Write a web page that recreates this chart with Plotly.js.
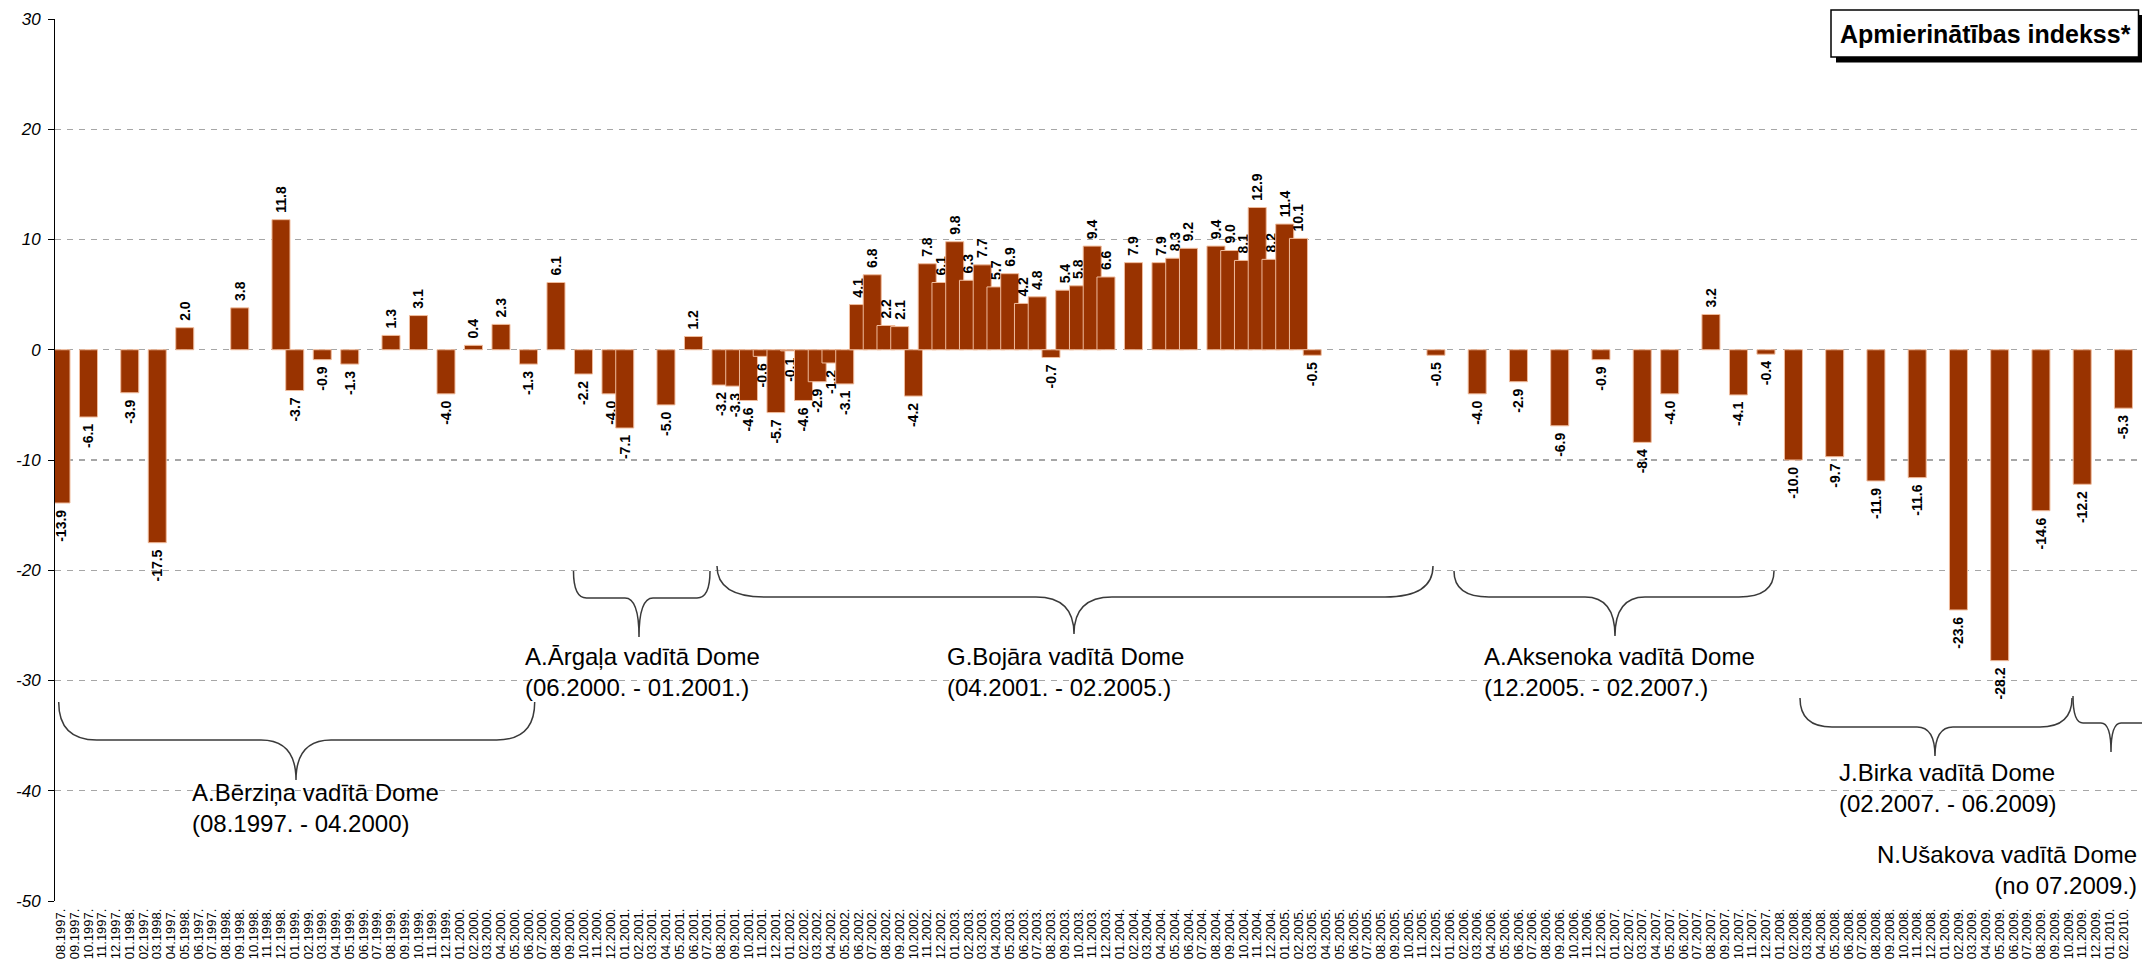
<!DOCTYPE html>
<html><head><meta charset="utf-8">
<script src="https://cdn.plot.ly/plotly-3.0.1.min.js"></script>
<style>html,body{margin:0;padding:0;background:#fff}#chart{width:2142px;height:960px}</style>
</head><body><div id="chart"></div>
<script>
// x-axis categories (tick labels as printed in the original, including its typos)
const categories = [
"08.1997.","09.1997.","10.1997.","11.1997.","12.1997.",
"01.1998.","02.1997.","03.1998.","04.1997.","05.1998.","06.1997.","07.1997.","08.1998.","09.1998.","10.1998.","11.1998.","12.1998.",
"01.1999.","02.1999.","03.1999.","04.1999.","05.1999.","06.1999.","07.1999.","08.1999.","09.1999.","10.1999.","11.1999.","12.1999.",
"01.2000.","02.2000.","03.2000.","04.2000.","05.2000.","06.2000.","07.2000.","08.2000.","09.2000.","10.2000.","11.2000.","12.2000.",
"01.2001.","02.2001.","03.2001.","04.2001.","05.2001.","06.2001.","07.2001.","08.2001.","09.2001.","10.2001.","11.2001.","12.2001.",
"01.2002.","02.2002.","03.2002.","04.2002.","05.2002.","06.2002.","07.2002.","08.2002.","09.2002.","10.2002.","11.2002.","12.2002.",
"01.2003.","02.2003.","03.2003.","04.2003.","05.2003.","06.2003.","07.2003.","08.2003.","09.2003.","10.2003.","11.2003.","12.2003.",
"01.2004.","02.2004.","03.2004.","04.2004.","05.2004.","06.2004.","07.2004.","08.2004.","09.2004.","10.2004.","11.2004.","12.2004.",
"01.2005.","02.2005.","03.2005.","04.2005.","05.2005.","06.2005.","07.2005.","08.2005.","09.2005.","10.2005.","11.2005.","12.2005.",
"01.2006.","02.2006.","03.2006.","04.2006.","05.2006.","06.2006.","07.2006.","08.2006.","09.2006.","10.2006.","11.2006.","12.2006.",
"01.2007.","02.2007.","03.2007.","04.2007.","05.2007.","06.2007.","07.2007.","08.2007.","09.2007.","10.2007.","11.2007.","12.2007.",
"01.2008.","02.2008.","03.2008.","04.2008.","05.2008.","06.2008.","07.2008.","08.2008.","09.2008.","10.2008.","11.2008.","12.2008.",
"01.2009.","02.2009.","03.2009.","04.2009.","05.2009.","06.2009.","07.2009.","08.2009.","09.2009.","10.2009.","11.2009.","12.2009.",
"01.2010.","02.2010."
];

// survey months that have a value, and the index values
const barMonths = [
"08.1997.","10.1997.","01.1998.","03.1998.","05.1998.","09.1998.","12.1998.","01.1999.","03.1999.","05.1999.",
"08.1999.","10.1999.","12.1999.","02.2000.","04.2000.","06.2000.","08.2000.","10.2000.","12.2000.","01.2001.",
"04.2001.","06.2001.",
"08.2001.","09.2001.","10.2001.","11.2001.","12.2001.","01.2002.","02.2002.","03.2002.","04.2002.","05.2002.",
"06.2002.","07.2002.","08.2002.","09.2002.","10.2002.","11.2002.","12.2002.","01.2003.","02.2003.","03.2003.",
"04.2003.","05.2003.","06.2003.","07.2003.","08.2003.","09.2003.","10.2003.","11.2003.","12.2003.",
"02.2004.","04.2004.","05.2004.","06.2004.","08.2004.","09.2004.","10.2004.","11.2004.","12.2004.",
"01.2005.","02.2005.","03.2005.",
"12.2005.","03.2006.","06.2006.","09.2006.","12.2006.","03.2007.","05.2007.","08.2007.","10.2007.","12.2007.",
"02.2008.","05.2008.","08.2008.","11.2008.","02.2009.","05.2009.","08.2009.","11.2009.","02.2010."
];
const barValues = [
-13.9,-6.1,-3.9,-17.5,2.0,3.8,11.8,-3.7,-0.9,-1.3,
1.3,3.1,-4.0,0.4,2.3,-1.3,6.1,-2.2,-4.0,-7.1,
-5.0,1.2,
-3.2,-3.3,-4.6,-0.6,-5.7,-0.1,-4.6,-2.9,-1.2,-3.1,
4.1,6.8,2.2,2.1,-4.2,7.8,6.1,9.8,6.3,7.7,
5.7,6.9,4.2,4.8,-0.7,5.4,5.8,9.4,6.6,
7.9,7.9,8.3,9.2,9.4,9.0,8.1,12.9,8.2,
11.4,10.1,-0.5,
-0.5,-4.0,-2.9,-6.9,-0.9,-8.4,-4.0,3.2,-4.1,-0.4,
-10.0,-9.7,-11.9,-11.6,-23.6,-28.2,-14.6,-12.2,-5.3
];

const yTickVals = [30,20,10,0,-10,-20,-30,-40,-50];
const yTickText = ["30","20","10","0","-10","-20","-30","-40","-50"];

const chartTitle = "Apmierinātības indekss*";
const periodNames = ["A.Bērziņa vadītā Dome","A.Ārgaļa vadītā Dome","G.Bojāra vadītā Dome","A.Aksenoka vadītā Dome","J.Birka vadītā Dome","N.Ušakova vadītā Dome"];
const periodDates = ["(08.1997. - 04.2000)","(06.2000. - 01.2001.)","(04.2001. - 02.2005.)","(12.2005. - 02.2007.)","(02.2007. - 06.2009)","(no 07.2009.)"];

// ---- layout helpers (pixel -> paper) ----
const L = 55, R = 0, T = 19, B = 59, W = 2142, H = 960;
const PW = W - L - R, PH = H - T - B;
const px = p => (p - L) / PW;
const py = p => (H - B - p) / PH;
const f = v => v.toFixed(5);

function bracePath(b) {
  const X = p => f(px(p)), Y = p => f(py(p));
  return `M${X(b.x0)},${Y(b.yt)} Q${X(b.x0)},${Y(b.ym)} ${X(b.x0 + b.r)},${Y(b.ym)} ` +
         `L${X(b.xm - b.rm)},${Y(b.ym)} Q${X(b.xm)},${Y(b.ym)} ${X(b.xm)},${Y(b.yb)} ` +
         `Q${X(b.xm)},${Y(b.ym)} ${X(b.xm + b.rm)},${Y(b.ym)} ` +
         `L${X(b.x1 - b.r)},${Y(b.ym)} Q${X(b.x1)},${Y(b.ym)} ${X(b.x1)},${Y(b.yt)}`;
}

const braces = [
  {x0: 58.7, x1: 534.7, xm: 296, yt: 702, ym: 740, yb: 780, r: 38, rm: 35},
  {x0: 573.5, x1: 710, xm: 639, yt: 571, ym: 598, yb: 637, r: 13, rm: 14},
  {x0: 717, x1: 1433, xm: 1074, yt: 566, ym: 597, yb: 634, r: 48, rm: 38},
  {x0: 1454, x1: 1774, xm: 1615, yt: 571, ym: 597, yb: 636, r: 35, rm: 30},
  {x0: 1800, x1: 2072, xm: 1935, yt: 698, ym: 727, yb: 756, r: 32, rm: 18},
  {x0: 2073, x1: 2200, xm: 2111, yt: 696, ym: 723, yb: 752, r: 10, rm: 10}
];
const labelPos = [
  {x: 190, y: 808, anchor: 'left'},
  {x: 523, y: 672, anchor: 'left'},
  {x: 945, y: 672, anchor: 'left'},
  {x: 1482, y: 672, anchor: 'left'},
  {x: 1837, y: 788, anchor: 'left'},
  {x: 2139, y: 870, anchor: 'right'}
];

const FONT = 'Liberation Sans, Arial, sans-serif';

const shapes = braces.map(b => ({
  type: 'path', xref: 'paper', yref: 'paper', path: bracePath(b),
  line: {color: '#3a3a3a', width: 1.5}, fillcolor: 'rgba(0,0,0,0)'
}));
// title box shadow and box
shapes.push({type: 'rect', xref: 'paper', yref: 'paper',
  x0: px(1836), x1: px(2146), y0: py(62.5), y1: py(15), fillcolor: '#000', line: {width: 0}});
shapes.push({type: 'rect', xref: 'paper', yref: 'paper',
  x0: px(1831), x1: px(2138.5), y0: py(57), y1: py(10), fillcolor: '#fff', line: {color: '#000', width: 1.5}});

const annotations = periodNames.map((n, i) => ({
  xref: 'paper', yref: 'paper', x: px(labelPos[i].x), y: py(labelPos[i].y),
  xanchor: labelPos[i].anchor, yanchor: 'middle', align: labelPos[i].anchor,
  text: n + '<br>' + periodDates[i], showarrow: false,
  font: {family: FONT, size: 24, color: '#000'}
}));
annotations.push({
  xref: 'paper', yref: 'paper', x: px(1985), y: py(33.5), xanchor: 'center', yanchor: 'middle',
  text: chartTitle, showarrow: false,
  font: {family: FONT, size: 25, color: '#000', weight: 'bold'}
});

// value labels: a non-breaking space on the bar side gives the small gap seen in the original
const NBSP = '\u00A0';
const trace = {
  type: 'bar', x: barMonths, y: barValues,
  width: 1.31,
  marker: {color: '#993300', line: {color: '#f0bc9c', width: 1}},
  text: barValues.map(v => v >= 0 ? NBSP + v.toFixed(1) : v.toFixed(1) + NBSP),
  texttemplate: '%{text}',
  textposition: 'outside', textangle: -90, constraintext: 'none', cliponaxis: false,
  outsidetextfont: {family: FONT, size: 14, color: '#000', weight: 'bold'},
  hoverinfo: 'x+y'
};

const layout = {
  width: W, height: H,
  margin: {l: L, r: R, t: T, b: B, pad: 0},
  paper_bgcolor: '#fff', plot_bgcolor: '#fff',
  showlegend: false,
  font: {family: FONT, color: '#000'},
  xaxis: {
    type: 'category', categoryorder: 'array', categoryarray: categories,
    range: [-0.436, 151.35], tickmode: 'array', tickvals: categories, ticktext: categories,
    tickangle: -90, tickfont: {family: FONT, size: 13, color: '#000'},
    ticks: '', showgrid: false, showline: false, zeroline: false, automargin: false,
    ticklabelstandoff: 4, fixedrange: true
  },
  yaxis: {
    range: [-50, 30], tickmode: 'array', tickvals: yTickVals, ticktext: yTickText,
    showline: true, linecolor: '#000', linewidth: 1,
    ticks: 'outside', ticklen: 6, tickcolor: '#000', tickwidth: 1,
    showgrid: true, gridcolor: '#a6a6a6', gridwidth: 1.3, griddash: '6px,6px',
    zeroline: false, automargin: false,
    tickfont: {family: FONT, size: 17, color: '#000', style: 'italic'},
    ticklabelstandoff: 4
  },
  shapes: shapes,
  annotations: annotations
};

Plotly.newPlot('chart', [trace], layout, {displayModeBar: false, staticPlot: true});
</script>
</body></html>
